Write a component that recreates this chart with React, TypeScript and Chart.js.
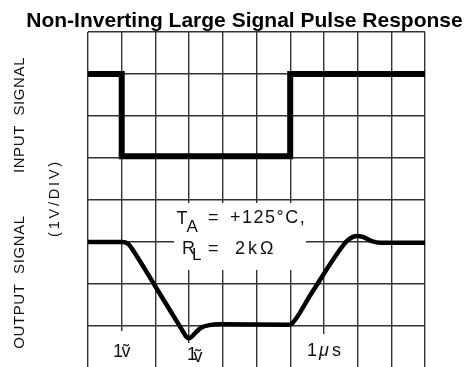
import { useEffect, useRef } from 'react';
import { Chart, registerables } from 'chart.js';

Chart.register(...registerables);

const TITLE = 'Non-Inverting Large Signal Pulse Response';

// Scope graticule: 10 time divisions across, 8 vertical divisions (1 V/div)
const timeDivs = [0, 1, 2, 3, 4, 5, 6, 7, 8, 9, 10];
const levelDivs = [1, 2, 3, 4, 5, 6, 7, 8];

// Input pulse (upper trace), in divisions
const inputTime = [0, 1, 1, 6, 6, 10];
const inputLevel = [7.0, 7.0, 5.04, 5.04, 7.0, 7.0];

// Output response (lower trace), in divisions
const outputTime = [
  0, 1.0, 1.1, 1.2, 1.33, 2.0, 2.55, 2.75, 2.84, 2.91, 2.97, 3.05, 3.2, 3.38, 3.6, 3.9,
  5.95, 6.04, 6.6, 7.6, 7.75, 7.97, 8.15, 8.42, 8.68, 10,
];
const outputLevel = [
  3.0, 3.0, 2.99, 2.95, 2.81, 1.94, 1.22, 0.96, 0.84, 0.75, 0.71, 0.73, 0.85, 0.97, 1.02, 1.04,
  1.03, 1.05, 1.74, 2.95, 3.07, 3.14, 3.12, 3.02, 2.98, 2.98,
];

const FONT = '"Liberation Sans", Arial, "DejaVu Sans", sans-serif';

function txt(
  ctx: CanvasRenderingContext2D,
  s: string,
  x: number,
  y: number,
  size: number,
  opts: { spacing?: number; style?: string } = {}
) {
  ctx.font = `${opts.style ? opts.style + ' ' : ''}${size}px ${FONT}`;
  (ctx as any).letterSpacing = `${opts.spacing ?? 0}px`;
  ctx.fillText(s, x, y);
}

function vtxt(ctx: CanvasRenderingContext2D, s: string, cx: number, cy: number, size: number, spacing: number) {
  ctx.save();
  ctx.translate(cx, cy);
  ctx.rotate(-Math.PI / 2);
  ctx.textAlign = 'center';
  ctx.textBaseline = 'middle';
  ctx.font = `${size}px ${FONT}`;
  (ctx as any).letterSpacing = `${spacing}px`;
  ctx.fillText(s, 0, 0);
  ctx.restore();
}

const scopeText = {
  id: 'scopeText',
  beforeDatasetsDraw(chart: Chart) {
    const ctx = chart.ctx;
    ctx.save();
    ctx.fillStyle = '#fff';
    // blank-out panels behind the annotations
    ctx.fillRect(174, 203, 132, 67);
    ctx.fillRect(111, 331, 24, 36);
    ctx.fillRect(185, 343, 23, 24);
    ctx.fillRect(304, 334, 40, 33);
    ctx.restore();
  },
  afterDraw(chart: Chart) {
    const ctx = chart.ctx;
    ctx.save();
    ctx.fillStyle = '#000';
    ctx.textBaseline = 'alphabetic';

    ctx.textAlign = 'center';
    txt(ctx, TITLE, 244.5, 27, 21, { style: 'bold' });

    ctx.fillStyle = '#111';
    vtxt(ctx, 'INPUT  SIGNAL', 20, 115, 15, 0.6);
    vtxt(ctx, 'OUTPUT  SIGNAL', 20, 282, 15, 0.6);
    vtxt(ctx, '(1V/DIV)', 54.5, 198, 14.5, 2.8);

    ctx.textAlign = 'left';
    ctx.textBaseline = 'alphabetic';
    txt(ctx, 'T', 176.5, 223.5, 18);
    txt(ctx, 'A', 186.5, 231.5, 17);
    txt(ctx, '=', 208, 223, 18);
    txt(ctx, '+125°C,', 230, 223, 18, { spacing: 1.5 });

    txt(ctx, 'R', 182, 253.5, 18);
    txt(ctx, 'L', 192, 260, 17);
    txt(ctx, '=', 208, 253.5, 18);
    txt(ctx, '2', 235, 253.5, 18);
    txt(ctx, 'k', 248, 253.5, 18);
    txt(ctx, 'Ω', 260, 253.5, 18);

    txt(ctx, '1', 113, 357, 18);
    txt(ctx, 'ṽ', 121.5, 357, 18);
    txt(ctx, '1', 187, 360, 18);
    txt(ctx, 'ṽ', 193.5, 361.5, 18);
    txt(ctx, '1', 307, 355.5, 18);
    txt(ctx, 'μ', 319, 355.5, 18, { style: 'italic' });
    txt(ctx, 's', 332, 355.5, 18);
    ctx.restore();
  },
};

export default function App() {
  const ref = useRef<HTMLCanvasElement>(null);

  useEffect(() => {
    if (!ref.current) return;
    const gridColor = '#333';
    const chart = new Chart(ref.current, {
      type: 'line',
      data: {
        datasets: [
          {
            label: 'Input',
            data: inputTime.map((t, i) => ({ x: t, y: inputLevel[i] })),
            borderColor: '#000',
            borderWidth: 6,
            pointRadius: 0,
            tension: 0,
            borderJoinStyle: 'miter',
            borderCapStyle: 'butt',
          },
          {
            label: 'Output',
            data: outputTime.map((t, i) => ({ x: t, y: outputLevel[i] })),
            borderColor: '#000',
            borderWidth: 4.5,
            pointRadius: 0,
            cubicInterpolationMode: 'monotone',
            borderJoinStyle: 'round',
            borderCapStyle: 'butt',
          },
        ],
      },
      options: {
        responsive: false,
        maintainAspectRatio: false,
        animation: false,
        events: [],
        layout: { padding: { left: 88, right: 44, top: 32, bottom: 0 } },
        plugins: {
          legend: { display: false },
          tooltip: { enabled: false },
          title: { display: false },
        },
        scales: {
          x: {
            type: 'linear',
            min: 0,
            max: 10,
            afterBuildTicks: (s: any) => {
              s.ticks = timeDivs.map((v) => ({ value: v }));
            },
            ticks: { display: false },
            grid: { color: gridColor, lineWidth: 1.4, drawTicks: false },
            border: { display: false },
          },
          y: {
            type: 'linear',
            min: 8 - 335 / 42,
            max: 8,
            afterBuildTicks: (s: any) => {
              s.ticks = levelDivs.map((v) => ({ value: v }));
            },
            ticks: { display: false },
            grid: { color: gridColor, lineWidth: 1.4, drawTicks: false },
            border: { display: false },
          },
        },
      },
      plugins: [scopeText],
    });
    return () => chart.destroy();
  }, []);

  return (
    <div style={{ position: 'fixed', left: 0, top: 0, width: 469, height: 367, background: '#fff' }}>
      <canvas ref={ref} width={469} height={367} style={{ display: 'block' }} />
    </div>
  );
}
